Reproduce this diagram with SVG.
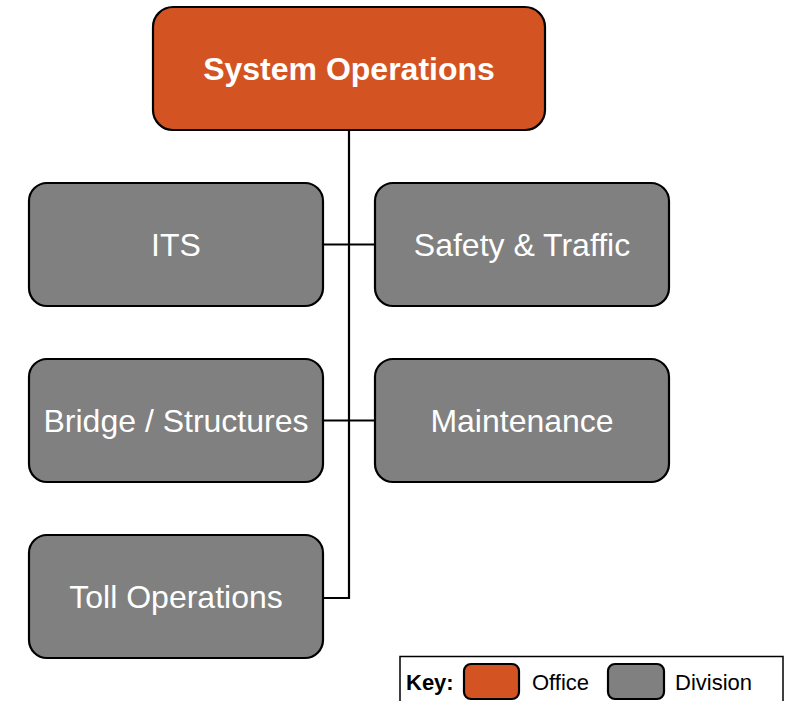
<svg xmlns="http://www.w3.org/2000/svg" width="790" height="701" viewBox="0 0 790 701">
<style>
.box{stroke:#000;stroke-width:2.2}
.office{fill:#D35422}
.div{fill:#808080}
.lbl{font-family:"Liberation Sans",Arial,sans-serif;font-size:32px;fill:#fff;text-anchor:middle}
.ttl{font-weight:bold}
.key{font-family:"Liberation Sans",Arial,sans-serif;font-size:22px;fill:#000}
.conn{stroke:#000;stroke-width:2.2;fill:none}
</style>
<rect x="0" y="0" width="790" height="701" fill="#fff"/>
<g id="connectors">
<path class="conn" d="M349 130 V598 H323"/>
<path class="conn" d="M323 244.5 H375"/>
<path class="conn" d="M323 420.5 H375"/>
</g>
<g id="system-operations">
<rect class="box office" x="153" y="7" width="392" height="123" rx="20"/>
<text class="lbl ttl" x="349" y="80">System Operations</text>
</g>
<g id="its">
<rect class="box div" x="29" y="183" width="294" height="123" rx="18"/>
<text class="lbl" x="176" y="256">ITS</text>
</g>
<g id="safety-traffic">
<rect class="box div" x="375" y="183" width="294" height="123" rx="18"/>
<text class="lbl" x="522" y="256">Safety &amp; Traffic</text>
</g>
<g id="bridge-structures">
<rect class="box div" x="29" y="359" width="294" height="123" rx="18"/>
<text class="lbl" x="176" y="432">Bridge / Structures</text>
</g>
<g id="maintenance">
<rect class="box div" x="375" y="359" width="294" height="123" rx="18"/>
<text class="lbl" x="522" y="432">Maintenance</text>
</g>
<g id="toll-operations">
<rect class="box div" x="29" y="535" width="294" height="123" rx="18"/>
<text class="lbl" x="176" y="608">Toll Operations</text>
</g>
<g id="key">
<rect x="400" y="656.5" width="383" height="50" fill="#fff" stroke="#000" stroke-width="1.5"/>
<text class="key" x="406" y="690" font-weight="bold" font-size="21">Key:</text>
<rect class="box office" x="464" y="664" width="55" height="35" rx="7" stroke-width="2"/>
<text class="key" x="532" y="690">Office</text>
<rect class="box div" x="608" y="664" width="56" height="35" rx="7" stroke-width="2"/>
<text class="key" x="675" y="690">Division</text>
</g>
</svg>
